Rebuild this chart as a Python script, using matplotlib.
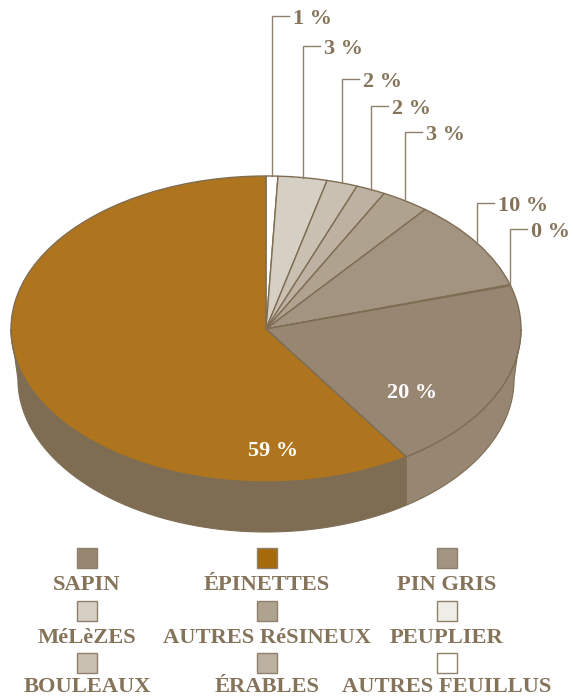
import matplotlib
matplotlib.use("Agg")
import matplotlib.pyplot as plt
import numpy as np

W, H = 573, 697
CX, CY, RX, RY = 266, 329, 255, 153
DEPTH = 50 / RY
BOTTOM_SCALE = 0.973  # lower rim of the wall is a bit narrower than the top

# slices clockwise from 12 o'clock, shares as measured on the picture
names = ["AUTRES FEUILLUS", "MéLèZES", "BOULEAUX", "ÉRABLES", "AUTRES RéSINEUX",
         "PIN GRIS", "PEUPLIER", "SAPIN", "ÉPINETTES"]
shares = [0.75, 3.1, 1.96, 1.86, 3.06, 9.6, 0.1, 20.3, 59.27]
percent_labels = ["1 %", "3 %", "2 %", "2 %", "3 %", "10 %", "0 %", "20 %", "59 %"]
top_colors = ["#ffffff", "#d6cfc4", "#cac0b2", "#bdb2a1", "#afa28f",
              "#a29480", "#efede8", "#978672", "#ae751e"]
side_colors = {"SAPIN": "#978672", "ÉPINETTES": "#7e6d53"}
leader_tops = [16, 46, 79, 106, 132, 203, 229]

legend_rows = [["SAPIN", "ÉPINETTES", "PIN GRIS"],
               ["MéLèZES", "AUTRES RéSINEUX", "PEUPLIER"],
               ["BOULEAUX", "ÉRABLES", "AUTRES FEUILLUS"]]
legend_colors = [["#978672", "#a66a0a", "#a29480"],
                 ["#d6cfc4", "#afa28f", "#efede8"],
                 ["#cac0b2", "#bdb2a1", "#ffffff"]]
legend_x = [87, 267, 447]
swatch_y = [558, 611, 663]
legend_baseline = [590, 643, 692.5]

EDGE = "#7e6d53"
TEXT = "#85735a"
FONT = ["Liberation Serif", "DejaVu Serif"]


def to_unit(x, y):
    # picture pixels -> unit circle of the pie
    return (x - CX) / RX, (CY - y) / RY


def bottom_angle(theta):
    # angle on the narrower lower rim that sits under theta on the top rim
    return np.pi - np.arcsin(np.clip(np.sin(theta) / BOTTOM_SCALE, -1, 1))


fig = plt.figure(figsize=(W / 100, H / 100), dpi=100)
ax = fig.add_axes([0, 0, 1, 1])

edges = np.cumsum([0] + shares) / sum(shares) * 360  # degrees clockwise from top

# side wall first, only the front half shows
for i, name in enumerate(names):
    if name not in side_colors:
        continue
    a0, a1 = np.radians(max(edges[i], 90)), np.radians(min(edges[i + 1], 270))
    t = np.linspace(a0, a1, 80)
    b = np.linspace(bottom_angle(a0), bottom_angle(a1), 80)
    xs = np.concatenate([np.sin(t), BOTTOM_SCALE * np.sin(b)[::-1]])
    ys = np.concatenate([np.cos(t), np.cos(b)[::-1] - DEPTH])
    ax.fill(xs, ys, facecolor=side_colors[name], edgecolor=EDGE, linewidth=0.8, zorder=1)

wedges, _ = ax.pie(shares, colors=top_colors, startangle=90, counterclock=False, radius=1,
                   wedgeprops={"edgecolor": EDGE, "linewidth": 1.0, "zorder": 2})

# the pie forces a round shape, squash it back to the ellipse
ax.set_aspect("auto")
ax.set_xlim(to_unit(0, 0)[0], to_unit(W, 0)[0])
ax.set_ylim(to_unit(0, H)[1], to_unit(0, 0)[1])
ax.axis("off")

# leader lines for the thin slices
mids = np.radians((edges[:-1] + edges[1:]) / 2)
for i, top in enumerate(leader_tops):
    x0, y0 = np.sin(mids[i]), np.cos(mids[i])
    _, y1 = to_unit(0, top)
    x2 = x0 + 17 / RX
    ax.plot([x0, x0, x2], [y0, y1, y1], color="#8f806b", linewidth=1.0, zorder=3,
            solid_joinstyle="miter")
    tx, ty = to_unit(CX + x0 * RX + 21, top + 3)
    ax.text(tx, ty, percent_labels[i], family=FONT, weight="bold", fontsize=16,
            color=TEXT, ha="left", va="center")

for i, (px, py) in zip([7, 8], [(412, 393), (273, 451)]):
    tx, ty = to_unit(px, py)
    ax.text(tx, ty, percent_labels[i], family=FONT, weight="bold", fontsize=16,
            color="white", ha="center", va="center", zorder=4)

# legend
for r, row in enumerate(legend_rows):
    for c, name in enumerate(row):
        sx, sy = to_unit(legend_x[c], swatch_y[r])
        ax.add_patch(plt.Rectangle((sx - 10 / RX, sy - 10 / RY), 20 / RX, 20 / RY,
                                   facecolor=legend_colors[r][c], edgecolor="#8f806b",
                                   linewidth=1.0, zorder=3))
        tx, ty = to_unit(legend_x[c], legend_baseline[r])
        ax.text(tx, ty, name, family=FONT, weight="bold", fontsize=16.2, color=TEXT,
                ha="center", va="baseline")

fig.savefig("out.png", dpi=100)
